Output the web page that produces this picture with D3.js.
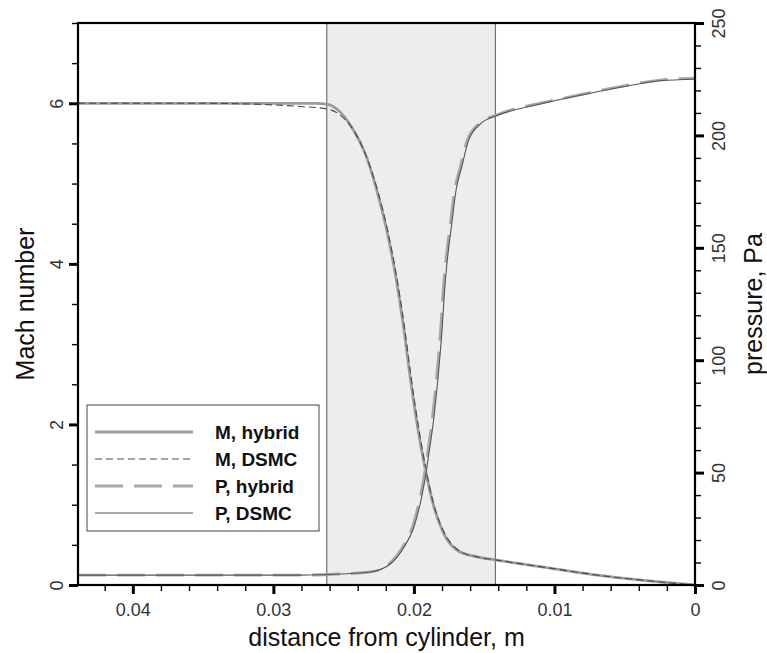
<!DOCTYPE html>
<html>
<head>
<meta charset="utf-8">
<script src="https://cdn.jsdelivr.net/npm/d3@7"></script>
<style>
  html, body { margin: 0; padding: 0; background: #fff; }
  svg { display: block; font-family: "Liberation Sans", Arial, sans-serif; }
</style>
</head>
<body>
<div id="chart"></div>
<script>
// Mach number and pressure along the stagnation line (hybrid vs DSMC)

// distance from cylinder (m), Mach number
const machHybrid = [
    [0.0439, 6.00], [0.0352, 6.00], [0.0281, 6.00], [0.0270, 6.00], [0.0262, 5.99],
    [0.0253, 5.90], [0.02456, 5.74], [0.02335, 5.32], [0.02263, 4.91], [0.02192, 4.41],
    [0.02128, 3.83], [0.02078, 3.27], [0.02028, 2.61], [0.01972, 1.95], [0.01922, 1.47],
    [0.01865, 1.02], [0.0179, 0.65], [0.0169, 0.43], [0.0155, 0.35],
    [0.0141, 0.31], [0.0103, 0.21], [0.0068, 0.12], [0.0000, 0.00]
];
const machDsmc = [
    [0.0439, 6.00], [0.0352, 6.00], [0.0300, 5.98], [0.0281, 5.96], [0.0262, 5.93],
    [0.0253, 5.86], [0.02456, 5.73], [0.02330, 5.30], [0.02256, 4.90], [0.02185, 4.40],
    [0.02121, 3.82], [0.02071, 3.26], [0.02021, 2.60], [0.01965, 1.94], [0.01916, 1.46],
    [0.01860, 1.01], [0.0178, 0.64], [0.0168, 0.43], [0.0155, 0.35],
    [0.0141, 0.31], [0.0103, 0.21], [0.0068, 0.12], [0.0000, 0.00]
];
// distance from cylinder (m), pressure (Pa)
const presHybrid = [
    [0.0439, 4.4], [0.0281, 4.4], [0.0253, 4.9], [0.0231, 5.8], [0.0217, 9.8],
    [0.0208, 16.9], [0.0201, 25.8], [0.0196, 37.8], [0.0192, 51.2], [0.0191, 55.6],
    [0.0187, 73.4], [0.0184, 91.2], [0.0181, 113.4], [0.0179, 132.6], [0.0177, 145.9],
    [0.0174, 161.0], [0.0171, 175.7], [0.0167, 185.9], [0.0162, 198.0], [0.0153, 205.5],
    [0.0141, 209.1], [0.0110, 214.4], [0.0096, 216.2], [0.0073, 219.3], [0.0048, 222.4],
    [0.0025, 224.6], [0.0000, 225.5]
];
const presDsmc = [
    [0.0439, 4.4], [0.0281, 4.4], [0.0253, 4.9], [0.0231, 5.8], [0.0216, 9.8],
    [0.0207, 16.9], [0.0200, 25.8], [0.0195, 37.8], [0.0191, 51.2], [0.0190, 55.6],
    [0.0186, 73.4], [0.0183, 91.2], [0.0180, 113.4], [0.0178, 132.6], [0.0176, 145.9],
    [0.0173, 161.0], [0.0170, 175.7], [0.0166, 185.9], [0.0161, 198.0], [0.0152, 205.5],
    [0.0141, 208.8], [0.0110, 214.0], [0.0096, 216.0], [0.0073, 219.0], [0.0048, 222.0],
    [0.0025, 224.3], [0.0000, 225.0]
];
// hybrid (DSMC) zone limits, m
const shockZone = [0.0262, 0.0142];

const xMajor = [0.04, 0.03, 0.02, 0.01, 0];
const machMajor = [0, 2, 4, 6];
const presMajor = [0, 50, 100, 150, 200, 250];

const seriesInfo = [
    { name: 'M, hybrid', data: machHybrid, axis: 'M', color: '#9c9c9c', width: 2.8, dash: null },
    { name: 'M, DSMC',   data: machDsmc,   axis: 'M', color: '#4a4a4a', width: 1.1, dash: '7,4' },
    { name: 'P, hybrid', data: presHybrid, axis: 'P', color: '#a8a8a8', width: 2.8, dash: '28,11' },
    { name: 'P, DSMC',   data: presDsmc,   axis: 'P', color: '#555555', width: 1.1, dash: null }
];

const width = 767, height = 653;
const margin = { left: 78, right: 72, top: 23, bottom: 68 };

const svg = d3.select('#chart').append('svg')
    .attr('width', width)
    .attr('height', height);

const x = d3.scaleLinear().domain([0.0439, 0]).range([margin.left, width - margin.right]);
const yM = d3.scaleLinear().domain([0, 7]).range([height - margin.bottom, margin.top]);
const yP = d3.scaleLinear().domain([0, 250]).range([height - margin.bottom, margin.top]);

const plotBottom = height - margin.bottom;
const plotRight = width - margin.right;

// shaded zone
svg.append('rect')
    .attr('x', x(shockZone[0]))
    .attr('y', margin.top)
    .attr('width', x(shockZone[1]) - x(shockZone[0]))
    .attr('height', plotBottom - margin.top)
    .attr('fill', '#ededed');
shockZone.forEach(v => {
    svg.append('line')
        .attr('x1', x(v)).attr('x2', x(v))
        .attr('y1', margin.top).attr('y2', plotBottom)
        .attr('stroke', '#707070').attr('stroke-width', 1.2);
});

// curves
seriesInfo.forEach(s => {
    const yScale = s.axis === 'M' ? yM : yP;
    const line = d3.line()
        .x(d => x(d[0]))
        .y(d => yScale(d[1]))
        .curve(d3.curveMonotoneX);
    svg.append('path')
        .datum(s.data)
        .attr('d', line)
        .attr('fill', 'none')
        .attr('stroke', s.color)
        .attr('stroke-width', s.width)
        .attr('stroke-dasharray', s.dash);
});

// legend
const legend = svg.append('g').attr('transform', 'translate(87,405)');
legend.append('rect')
    .attr('width', 232).attr('height', 126)
    .attr('fill', '#fff').attr('stroke', '#444').attr('stroke-width', 1);
seriesInfo.forEach((s, i) => {
    const yy = 27 + i * 27;
    legend.append('line')
        .attr('x1', 8).attr('x2', 106)
        .attr('y1', yy).attr('y2', yy)
        .attr('stroke', s.color)
        .attr('stroke-width', s.width)
        .attr('stroke-dasharray', s.dash);
    legend.append('text')
        .attr('x', 128).attr('y', yy + 7)
        .attr('font-size', 19).attr('font-weight', 'bold')
        .attr('fill', '#111')
        .text(s.name);
});

// frame
svg.append('rect')
    .attr('x', margin.left).attr('y', margin.top)
    .attr('width', plotRight - margin.left).attr('height', plotBottom - margin.top)
    .attr('fill', 'none').attr('stroke', '#000').attr('stroke-width', 2.2);

function styleTicks(g, w) {
    g.select('.domain').remove();
    g.selectAll('.tick line').attr('stroke', '#000').attr('stroke-width', w);
    g.selectAll('.tick text').attr('fill', '#333').attr('font-size', 18)
        .attr('font-family', '"Liberation Sans", Arial, sans-serif');
}

// bottom axis
const xMinor = d3.range(0, 0.0439, 0.002);
svg.append('g').attr('transform', `translate(0,${plotBottom})`)
    .call(d3.axisBottom(x).tickValues(xMinor).tickSize(6).tickFormat(''))
    .call(g => styleTicks(g, 1.4));
svg.append('g').attr('transform', `translate(0,${plotBottom})`)
    .call(d3.axisBottom(x).tickValues(xMajor).tickSize(9).tickPadding(9)
        .tickFormat(d => d === 0 ? '0' : d3.format('.2f')(d)))
    .call(g => styleTicks(g, 3));

// left axis (Mach)
svg.append('g').attr('transform', `translate(${margin.left},0)`)
    .call(d3.axisLeft(yM).tickValues(d3.range(0, 7.01, 0.5)).tickSize(6).tickFormat(''))
    .call(g => styleTicks(g, 1.4));
svg.append('g').attr('transform', `translate(${margin.left},0)`)
    .call(d3.axisLeft(yM).tickValues(machMajor).tickSize(9).tickFormat(d3.format('d')))
    .call(g => {
        styleTicks(g, 3);
        g.selectAll('.tick text')
            .attr('x', null).attr('dy', null)
            .attr('text-anchor', 'middle')
            .attr('transform', 'translate(-15,0) rotate(-90)');
    });

// right axis (pressure)
svg.append('g').attr('transform', `translate(${plotRight},0)`)
    .call(d3.axisRight(yP).tickValues(d3.range(0, 251, 10)).tickSize(6).tickFormat(''))
    .call(g => styleTicks(g, 1.4));
svg.append('g').attr('transform', `translate(${plotRight},0)`)
    .call(d3.axisRight(yP).tickValues(presMajor).tickSize(9).tickFormat(d3.format('d')))
    .call(g => {
        styleTicks(g, 3);
        g.selectAll('.tick text')
            .attr('x', null).attr('dy', null)
            .attr('text-anchor', 'middle')
            .attr('transform', 'translate(30,0) rotate(-90)');
    });

// axis titles
svg.append('text')
    .attr('x', (margin.left + plotRight) / 2).attr('y', 646)
    .attr('text-anchor', 'middle').attr('font-size', 25).attr('fill', '#111')
    .text('distance from cylinder, m');
svg.append('text')
    .attr('transform', `translate(34,${(margin.top + plotBottom) / 2}) rotate(-90)`)
    .attr('text-anchor', 'middle').attr('font-size', 25).attr('fill', '#111')
    .text('Mach number');
svg.append('text')
    .attr('transform', `translate(762,${(margin.top + plotBottom) / 2}) rotate(-90)`)
    .attr('text-anchor', 'middle').attr('font-size', 25).attr('fill', '#111')
    .text('pressure, Pa');
</script>
</body>
</html>
